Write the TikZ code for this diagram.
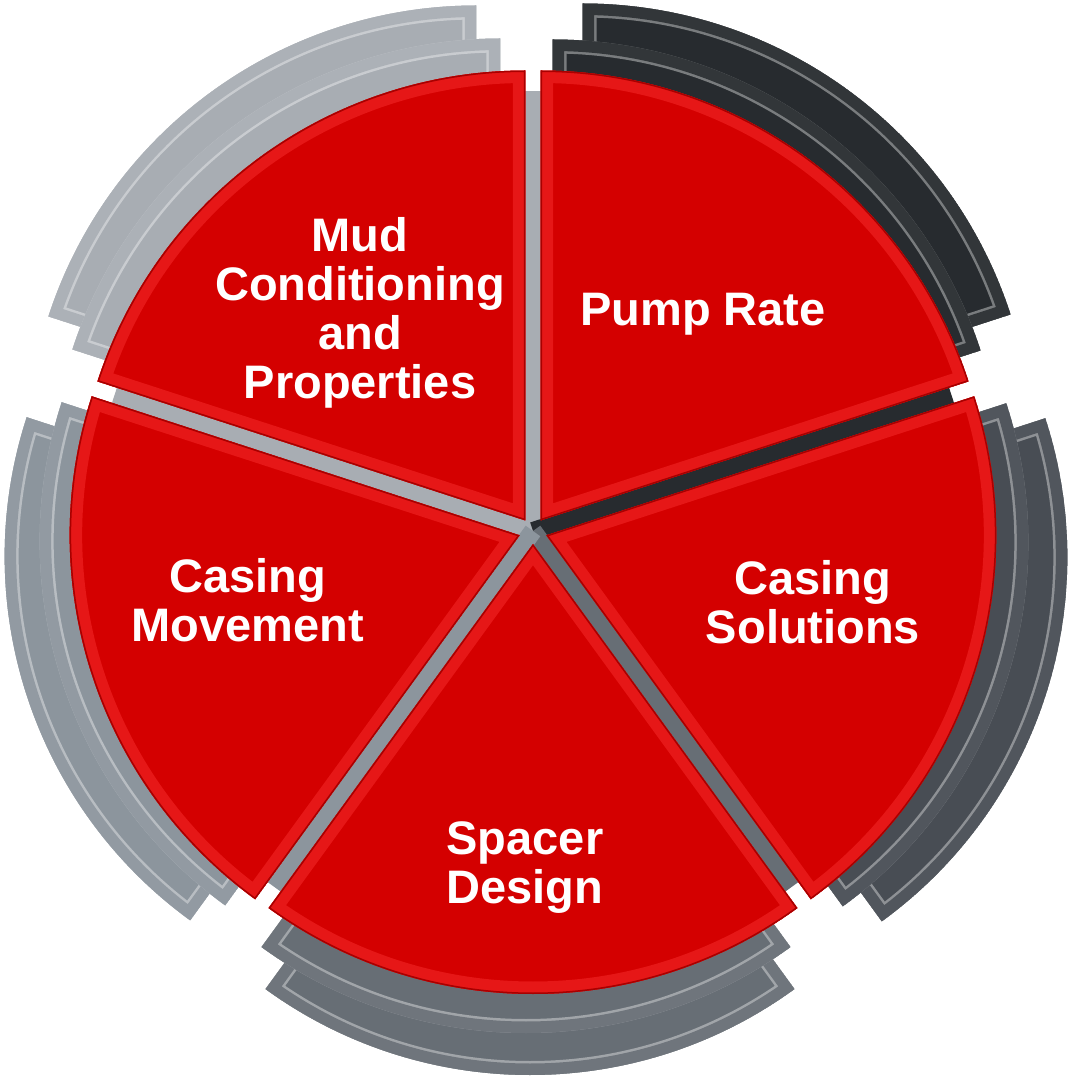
\documentclass[tikz,border=0pt]{standalone}
\usepackage{fontspec}
\setmainfont{Liberation Sans}
\usepackage{tikz}
\usepackage{xcolor}

\definecolor{facered}{HTML}{D40000}
\definecolor{bevelred}{HTML}{E61717}
\definecolor{rimred}{HTML}{A80000}
\definecolor{mudgrey}{HTML}{A8ADB3}
\definecolor{pumpgrey}{HTML}{272B2F}
\definecolor{solgrey}{HTML}{484D54}
\definecolor{spacergrey}{HTML}{676E75}
\definecolor{movegrey}{HTML}{8C959D}

% one 72 degree slice, apex and start angle
\tikzset{
  wedgeat/.style 2 args={insert path={(#1) -- ++(#2:450pt) arc[start angle=#2, delta angle=72, radius=450pt] -- cycle}}
}

% grey ring piece behind a slice
\newcommand{\greylayer}[3]{%
  \begin{scope}
    \clip[wedgeat={#1}{#2}];
    \fill[#3, wedgeat={#1}{#2}];
    \draw[line width=28pt, #3!62!white, wedgeat={#1}{#2}];
    \draw[line width=23pt, #3!95!white, wedgeat={#1}{#2}];
  \end{scope}}

% red slice with bevelled rim
\newcommand{\redslice}[2]{%
  \begin{scope}
    \clip[wedgeat={#1}{#2}];
    \fill[facered, wedgeat={#1}{#2}];
    \draw[line width=25pt, bevelred, wedgeat={#1}{#2}];
    \draw[line width=3pt, rimred, wedgeat={#1}{#2}];
  \end{scope}}

\begin{document}
\begin{tikzpicture}[x=1pt, y=1pt,
  slicetext/.style={text=white, font=\fontsize{47}{49}\selectfont\bfseries, align=center, inner sep=0pt},
  gapstrip/.style={line width=18pt}]
\useasboundingbox (-533,-550) rectangle (538,531);
% Back ring pieces
\greylayer{-56.6,75.5}{90}{mudgrey}
\greylayer{49.6,77.5}{18}{pumpgrey}
\greylayer{84.3,-26.3}{-54}{solgrey}
\greylayer{-3,-94}{-126}{spacergrey}
\greylayer{-78.3,-25.3}{162}{movegrey}
% Front ring pieces
\greylayer{-32.6,42.5}{90}{mudgrey}
\greylayer{19.6,41.5}{18}{pumpgrey}
\greylayer{45.3,-11.3}{-54}{solgrey}
\greylayer{-7,-52}{-126}{spacergrey}
\greylayer{-43.3,-10.3}{162}{movegrey}
% Gaps between the slices
\draw[gapstrip, mudgrey] (0,0) -- (90:440pt);
\draw[gapstrip, mudgrey] (0,0) -- (162:440pt);
\draw[gapstrip, pumpgrey] (0,0) -- (18:440pt);
\draw[gapstrip, spacergrey] (0,0) -- (-54:440pt);
\draw[gapstrip, movegrey] (0,0) -- (-126:440pt);
% Slices
\redslice{-7.6,10.5}{90}
\redslice{7.6,10.5}{18}
\redslice{13.3,-4.3}{-54}
\redslice{0,-13}{-126}
\redslice{-13.3,-4.3}{162}
% Slice labels
\node[slicetext] (mud) at (-173,218) {Mud\\Conditioning\\and\\Properties};
\node[slicetext] (pump) at (170,217) {Pump Rate};
\node[slicetext] (solutions) at (280,-71) {Casing\\Solutions};
\node[slicetext] (spacer) at (-8,-337) {Spacer\\Design};
\node[slicetext] (movement) at (-285,-69) {Casing\\Movement};
\end{tikzpicture}
\end{document}
